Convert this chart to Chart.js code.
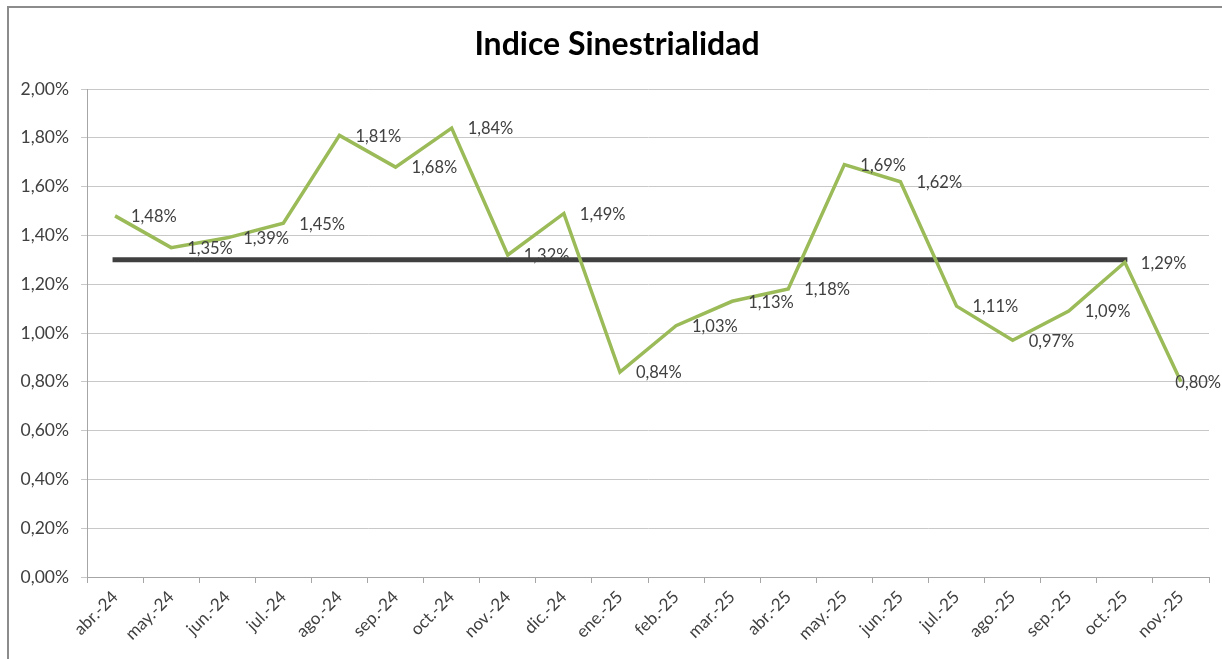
<!DOCTYPE html>
<html>
<head>
<meta charset="utf-8">
<script src="https://cdn.jsdelivr.net/npm/chart.js@4.4.1/dist/chart.umd.min.js"></script>
<style>
  html, body { margin: 0; padding: 0; background: #ffffff; }
  #wrap { position: relative; width: 1222px; height: 659px; overflow: hidden; }
  #frame { position: absolute; left: 7px; top: 6px; width: 1240px; height: 680px;
           border-left: 2px solid #8c8c8c; border-top: 2px solid #8c8c8c; box-sizing: border-box; }
  canvas { position: absolute; left: 0; top: 0; }
</style>
</head>
<body>
<div id="wrap">
  <div id="frame"></div>
  <canvas id="c" width="1222" height="659"></canvas>
</div>
<script>
const chartTitle = 'Indice Sinestrialidad';
const categories = ['abr.-24','may.-24','jun.-24','jul.-24','ago.-24','sep.-24','oct.-24','nov.-24','dic.-24','ene.-25',
                    'feb.-25','mar.-25','abr.-25','may.-25','jun.-25','jul.-25','ago.-25','sep.-25','oct.-25','nov.-25'];
const indiceValues = [1.48, 1.35, 1.39, 1.45, 1.81, 1.68, 1.84, 1.32, 1.49, 0.84,
                      1.03, 1.13, 1.18, 1.69, 1.62, 1.11, 0.97, 1.09, 1.29, 0.80];
const referenceValues = [1.30, 1.30, 1.30, 1.30, 1.30, 1.30, 1.30, 1.30, 1.30, 1.30,
                         1.30, 1.30, 1.30, 1.30, 1.30, 1.30, 1.30, 1.30, 1.30, null];
const yTicks = { min: 0, max: 2, step: 0.2 };

const fmt = v => v.toFixed(2).replace('.', ',') + '%';
const FONT = 'Lato, "Open Sans", sans-serif';

const titleDraw = {
  id: 'titleDraw',
  afterDraw(chart) {
    const ctx = chart.ctx;
    ctx.save();
    ctx.font = 'bold 32px ' + FONT;
    ctx.fillStyle = '#000000';
    ctx.textAlign = 'center';
    ctx.textBaseline = 'middle';
    ctx.fillText(chartTitle, 617, 45);
    ctx.restore();
  }
};

const dataLabels = {
  id: 'dataLabels',
  afterDatasetsDraw(chart) {
    const ctx = chart.ctx;
    const meta = chart.getDatasetMeta(1);
    ctx.save();
    ctx.font = '16.5px ' + FONT;
    ctx.fillStyle = '#404040';
    ctx.textAlign = 'left';
    ctx.textBaseline = 'middle';
    meta.data.forEach((pt, i) => {
      const txt = fmt(indiceValues[i]);
      const w = ctx.measureText(txt).width;
      let x = pt.x + 16;
      if (x + w > chart.width) x = chart.width - w - 1;
      ctx.fillText(txt, x, pt.y + 1);
    });
    ctx.restore();
  }
};

new Chart(document.getElementById('c'), {
  type: 'line',
  data: {
    labels: categories,
    datasets: [
      {
        label: 'Referencia',
        data: referenceValues,
        borderColor: '#404040',
        borderWidth: 5,
        borderCapStyle: 'square',
        pointRadius: 0,
        tension: 0,
        order: 2
      },
      {
        label: 'Indice',
        data: indiceValues,
        borderColor: '#9bbb59',
        borderWidth: 3.5,
        pointRadius: 0,
        tension: 0,
        order: 1
      }
    ]
  },
  options: {
    responsive: false,
    animation: false,
    devicePixelRatio: 1,
    layout: { padding: { left: 10, right: 13, top: 89, bottom: 0 } },
    plugins: {
      legend: { display: false },
      tooltip: { enabled: false },
      title: { display: false }
    },
    scales: {
      x: {
        offset: true,
        grid: { display: true, drawOnChartArea: false, offset: true, tickLength: 6, color: '#a6a6a6' },
        border: { display: true, color: '#a6a6a6', width: 1 },
        ticks: {
          color: '#404040',
          font: { family: FONT, size: 17 },
          minRotation: 45, maxRotation: 45,
          autoSkip: false,
          padding: 4
        },
        afterFit(scale) { scale.height = 82; }
      },
      y: {
        min: yTicks.min, max: yTicks.max,
        grid: { color: '#c8c8c8', tickLength: 6, lineWidth: 1 },
        border: { display: true, color: '#a6a6a6', width: 1 },
        ticks: {
          stepSize: yTicks.step,
          color: '#404040',
          font: { family: FONT, size: 17.5 },
          padding: 12,
          callback: v => fmt(v)
        },
        afterFit(scale) { scale.width = 77; }
      }
    }
  },
  plugins: [dataLabels, titleDraw]
});
</script>
</body>
</html>
